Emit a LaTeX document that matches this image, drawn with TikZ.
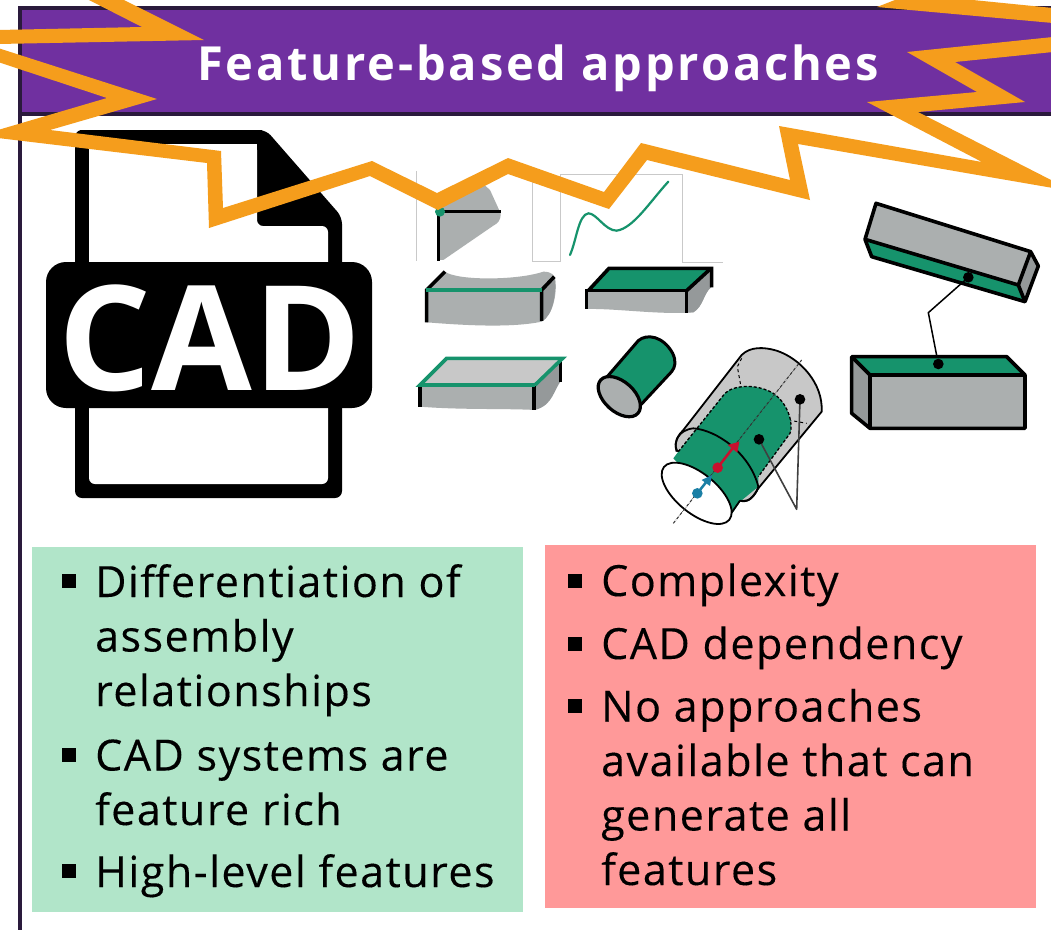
\documentclass[tikz,border=0pt]{standalone}
\usepackage{fontspec}
\setmainfont[LetterSpace=3.5,FakeBold=0.25]{Open Sans}
\newfontfamily\titlefont[LetterSpace=6]{Open Sans}
\newfontfamily\cadfont[LetterSpace=0.6]{Open Sans}
\definecolor{burst}{HTML}{F59D1C}
\definecolor{purp}{HTML}{7030A0}
\definecolor{purpdark}{HTML}{2A1A3C}
\definecolor{mint}{HTML}{B1E5C9}
\definecolor{rose}{HTML}{FF9999}
\definecolor{feat}{HTML}{16936C}
\definecolor{steel}{HTML}{ABAFAF}
\definecolor{steeldark}{HTML}{95999A}
\definecolor{lightsteel}{HTML}{C8C8C8}
\definecolor{faint}{HTML}{C9C9C9}
\definecolor{dotred}{HTML}{C8102E}
\definecolor{dotblue}{HTML}{1A7FA5}
\tikzset{
  itemtext/.style={anchor=base west,align=left,inner sep=0pt,font=\fontsize{43}{54.5}\selectfont,text=black},
  bulletbox/.style={fill=black,minimum size=14pt,inner sep=0pt,anchor=center},
  edge3d/.style={draw=black,line width=3.6pt,line cap=butt,line join=miter},
  featline/.style={draw=feat,line width=3.6pt},
  zoomA/.style={shift={(410,160)},x=0.3333pt,y=-0.3333pt},
  zoomB/.style={shift={(650,330)},x=0.3333pt,y=-0.3333pt},
  zoomC/.style={shift={(840,190)},x=0.3333pt,y=-0.3333pt},
}
\begin{document}
\begin{tikzpicture}[x=1pt,y=-1pt]
\useasboundingbox (0,0) rectangle (1051,930);
\clip (0,0) rectangle (1051,930);
\fill[white] (0,0) rectangle (1051,930);
% frame and title bar
\draw[purpdark,line width=3.5pt] (20,116) -- (20,930);
\draw[purp,fill=purp] (20,8) rectangle (1060,114);
\draw[purpdark,line width=4pt] (1060,8) -- (20,8) -- (20,114) -- (1060,114);
\node[anchor=base west,inner sep=0pt,text=white,font=\titlefont\bfseries\fontsize{47}{50}\selectfont] (title) at (197,80) {Feature-based approaches};
% CAD file icon
\fill[black,rounded corners=7pt]
  (75,498) -- (75,130) -- (266,130) -- (342,217) -- (342,498) -- cycle;
\fill[white,rounded corners=6pt] (89,130) -- (89,144) -- (257,144) -- (257,226) -- (328,226) -- (328,484) -- (89,484) -- cycle;
\fill[black] (80,130) rectangle (262,144);
\fill[white] (89,144) rectangle (120,160);
\fill[white] (240,144) rectangle (257,170);
\fill[black,rounded corners=20pt] (46,262) rectangle (372,408);
\node[inner sep=0pt,text=white,font=\cadfont\bfseries\fontsize{146}{150}\selectfont,anchor=base] (cad) at (210,390) {CAD};
% faint image frames
\draw[faint,line width=0.6pt] (416,171) -- (416,261);
\draw[faint,line width=0.6pt] (532,172) -- (532,261) -- (560,261) -- (560,174) -- (682,174) -- (682,262) -- (723,262);
% small features
\begin{scope}[zoomA]
  % corner
  \fill[steel] (85,155) -- (190,45) -- (240,90) -- (272,160) .. controls (272,185) and (262,190) .. (250,197) -- (100,300) -- (85,300) -- cycle;
  \draw[edge3d] (272,155) -- (85,155) -- (85,302);
  \fill[feat] (90,155) circle [radius=5pt];
  % curve
  \draw[feat,line width=2.2pt,line cap=round] (480,285) .. controls (500,240) and (505,165) .. (535,160) .. controls (560,160) and (585,212) .. (620,212) .. controls (670,205) and (720,125) .. (775,65);
  % edge block
  \fill[steel] (50,390) -- (105,335) .. controls (140,362) and (320,362) .. (400,335) .. controls (425,335) and (435,345) .. (437,365) .. controls (440,400) and (430,465) .. (395,485) .. controls (300,505) and (150,495) .. (50,487) -- cycle;
  \fill[steeldark] (395,390) -- (433,350) .. controls (440,400) and (430,465) .. (395,485) -- cycle;
  \draw[edge3d] (50,487) -- (50,390) -- (105,335);
  \draw[edge3d] (395,483) -- (395,390) -- (433,350);
  \draw[featline] (48,390) -- (397,390);
  % face block
  \fill[steel] (530,392) -- (830,392) -- (905,330) -- (905,380) .. controls (880,400) and (880,440) .. (850,457) .. controls (750,465) and (620,445) .. (530,447) -- cycle;
  \fill[steeldark] (830,392) -- (905,330) -- (905,380) .. controls (880,400) and (880,440) .. (850,457) -- (830,457) -- cycle;
  \fill[feat] (535,392) -- (597,325) -- (900,325) -- (830,392) -- cycle;
  \draw[edge3d] (530,447) -- (530,392) -- (830,392) -- (830,458);
  \draw[edge3d] (535,392) -- (597,325) -- (905,325) -- (905,382);
  \draw[edge3d] (830,392) -- (903,325);
  % outlined face block
  \fill[lightsteel] (30,675) -- (110,595) -- (455,595) -- (375,675) -- cycle;
  \fill[steel] (30,675) -- (375,675) -- (375,750) .. controls (280,745) and (150,750) .. (30,740) -- cycle;
  \fill[steeldark] (375,675) -- (455,600) -- (455,660) .. controls (430,690) and (430,735) .. (375,750) -- cycle;
  \draw[edge3d] (30,678) -- (30,740);
  \draw[edge3d] (372,678) -- (372,750);
  \draw[edge3d] (452,600) -- (452,665);
  \draw[featline] (375,675) -- (30,675) -- (110,595) -- (458,595) -- (375,675);
  % small cylinder
  \draw[fill=feat,line width=3pt] (590,652) -- (685,542) .. controls (710,520) and (760,528) .. (788,580) .. controls (800,605) and (795,622) .. (785,635) -- (692,735) -- cycle;
  \draw[fill=steel,line width=3.2pt,rotate around={-42:(628,710)}] (628,710) ellipse [x radius=25pt,y radius=15pt];
\end{scope}
% large cylinder
\begin{scope}[zoomB]
  \draw[fill=lightsteel,line width=1.8pt] (100,300) -- (275,75) .. controls (300,50) and (340,50) .. (380,62) .. controls (450,85) and (520,160) .. (515,245) -- (325,475) .. controls (300,520) and (280,515) .. (270,510) -- (80,360) .. controls (70,335) and (85,315) .. (100,300) -- cycle;
  \draw[dashed,line width=1pt] (275,85) -- (262,110) -- (272,165);
  \draw[dashed,line width=1pt] (415,270) -- (470,280);
  \fill[feat] (70,385) -- (85,365) -- (225,190) .. controls (250,165) and (320,160) .. (370,190) .. controls (420,225) and (430,290) .. (420,310) -- (325,440) -- (325,470) -- (270,515) -- (240,560) -- cycle;
  \draw[densely dashed,line width=1.3pt] (85,365) -- (225,190) .. controls (250,165) and (320,160) .. (370,190) .. controls (420,225) and (430,290) .. (420,310) -- (325,440);
  \draw[line width=1.8pt] (80,365) .. controls (70,335) and (85,300) .. (130,295) .. controls (200,300) and (300,370) .. (325,470) .. controls (315,500) and (295,520) .. (270,512);
  \draw[line width=1.8pt] (270,512) -- (245,548);
  \draw[fill=white,line width=1.8pt,rotate around={-39:(140,490)}] (140,490) ellipse [x radius=42pt,y radius=20pt];
  \draw[densely dashdotted,line width=1pt,draw=black!80] (70,580) -- (455,90);
  \draw[draw=black!75,line width=1.6pt,line join=round] (327,328) -- (440,538) -- (450,208);
  \fill[black] (327,328) circle [radius=5.3pt];
  \fill[black] (450,208) circle [radius=5.3pt];
  \draw[dotred,line width=2.5pt] (203,413) -- (250,352);
  \fill[dotred] (203,413) circle [radius=5.3pt];
  \fill[dotred] (268,335) -- (262,368) -- (233,345) -- cycle;
  \draw[dotblue,line width=2.5pt] (142,490) -- (172,452);
  \fill[dotblue] (142,490) circle [radius=5.3pt];
  \fill[dotblue] (186,435) -- (180,468) -- (155,450) -- cycle;
\end{scope}
% mating blocks
\begin{scope}[zoomC]
  \coordinate (upperdot) at (385,262);
  \coordinate (bend) at (265,368);
  \coordinate (lowerdot) at (295,522);
  \fill[steel] (108,40) -- (572,185) -- (535,285) -- (75,148) -- cycle;
  \fill[feat] (75,148) -- (535,285) -- (555,335) -- (95,200) -- cycle;
  \fill[steeldark] (572,185) -- (595,228) -- (555,335) -- (535,285) -- cycle;
  \draw[edge3d,line join=round] (108,40) -- (572,185) -- (595,228) -- (555,335) -- (95,200) -- (75,148) -- cycle;
  \draw[edge3d] (75,148) -- (535,285) -- (572,185);
  \draw[edge3d] (535,285) -- (555,335);
  \draw[line width=1.5pt] (upperdot) -- (bend) -- (lowerdot);
  \fill[feat] (35,500) -- (500,500) -- (555,555) -- (90,555) -- cycle;
  \fill[steel] (90,555) rectangle (555,715);
  \fill[steeldark] (35,500) -- (90,555) -- (90,715) -- (35,670) -- cycle;
  \draw[edge3d,line join=round] (35,500) -- (500,500) -- (555,555) -- (555,715) -- (90,715) -- (35,670) -- cycle;
  \draw[edge3d] (35,500) -- (90,555) -- (90,715);
  \draw[edge3d] (90,555) -- (555,555);
  \fill[black] (upperdot) circle [radius=5.3pt];
  \fill[black] (lowerdot) circle [radius=5.3pt];
\end{scope}
% burst outline
\fill[burst] (85,-2) -- (142,27) -- (-2,30) -- (-2,44) -- (204,40) -- (120,-2) -- cycle;
\fill[burst] (-2,48) -- (157,99) -- (50,130) -- (221,151) -- (223,208) -- (372,161) -- (437,193) -- (508,158) -- (604,192) -- (641,143) -- (790,180) -- (779,126) -- (982,162) -- (867,102) -- (977,92) -- (907,52) -- (1053,37)
  -- (1053,52) -- (955,62) -- (1025,102) -- (918,112) -- (1053,181) -- (1053,188) -- (798,144) -- (810,200) -- (647,160) -- (609,209) -- (508,174) -- (438,210) -- (370,176) -- (209,228) -- (207,163) -- (-2,138) -- (-2,130) -- (107,98) -- (-2,62) -- cycle;
\fill[burst] (877,7) -- (1053,23) -- (1053,8) -- (953,-2) -- (900,-2) -- cycle;
% advantages
\fill[mint] (32,547) rectangle (523,912);
\node[bulletbox] (ba) at (69,581) {};
\node[itemtext] (a) at (95,706) {Differentiation of\\assembly\\relationships};
\node[bulletbox] (bb) at (69,755) {};
\node[itemtext] (b) at (95,825) {CAD systems are\\feature rich};
\node[bulletbox] (bc) at (69,871) {};
\node[itemtext] (c) at (95,887) {High-level features};
% drawbacks
\fill[rose] (545,545) rectangle (1036,908);
\node[bulletbox] (bd) at (575,581) {};
\node[itemtext] (d) at (601,596) {Complexity};
\node[bulletbox] (be) at (575,644) {};
\node[itemtext] (e) at (601,659) {CAD dependency};
\node[bulletbox] (bf) at (575,706) {};
\node[itemtext] (f) at (601,885) {No approaches\\available that can\\generate all\\features};
\end{tikzpicture}
\end{document}
